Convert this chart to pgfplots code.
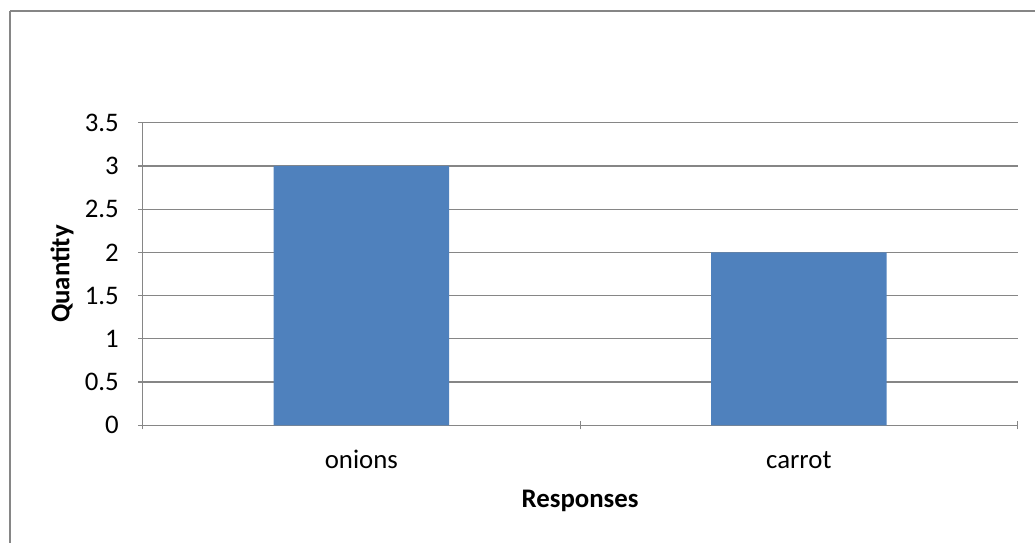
\documentclass[border=0pt]{standalone}
\usepackage{pgfplots}
\pgfplotsset{compat=1.18}
\usepackage{fontspec}
\setmainfont{Carlito}
\definecolor{barblue}{HTML}{4F81BD}
\definecolor{framegray}{HTML}{868686}
\newcommand{\px}{0.5pt}
\begin{document}
\begin{tikzpicture}[x=\px,y=\px]
  \useasboundingbox (0,0) rectangle (1035,542);
  % chart frame
  \draw[framegray, line width=0.8pt] (10,531) -- (1045,531);
  \draw[framegray, line width=0.8pt] (10,531) -- (10,-10);
  \begin{axis}[
    at={(142.7*\px,116.7*\px)}, anchor=south west,
    scale only axis,
    width=874.8*\px, height=302.6*\px,
    xmin=-0.5, xmax=1.5,
    ymin=0, ymax=3.5,
    ytick={0,0.5,...,3.5},
    yticklabels={0,0.5,1,1.5,2,2.5,3,3.5},
    xtick={0,1},
    xticklabels={onions,carrot},
    minor xtick={-0.5,0.5,1.5},
    major x tick style={draw=none},
    minor tick length=4pt,
    major tick length=4.5pt,
    tick align=outside,
    axis x line=bottom, axis y line=left,
    axis line style={framegray, line width=0.6pt, -},
    every tick/.style={framegray, line width=0.6pt},
    ymajorgrids,
    grid style={framegray, line width=0.6pt},
    font=\fontsize{13.4}{16}\selectfont,
    /pgf/number format/assume math mode=true,
    yticklabel style={anchor=east, inner sep=0pt, xshift=-9.5pt},
    xticklabel style={anchor=center, inner sep=0pt, yshift=-15pt},
    xlabel={\textbf{Responses}},
    ylabel={\textbf{Quantity}},
    xlabel style={at={(axis description cs:0.5,0)}, anchor=center, yshift=-37.8pt},
    ylabel style={at={(axis description cs:0,0.5)}, anchor=center, rotate=0, yshift=40.3pt},
    clip=false,
  ]
    \addplot[ybar, bar width=87.7pt, fill=barblue, draw=none]
      coordinates {(0,3) (1,2)};
  \end{axis}
\end{tikzpicture}
\end{document}
